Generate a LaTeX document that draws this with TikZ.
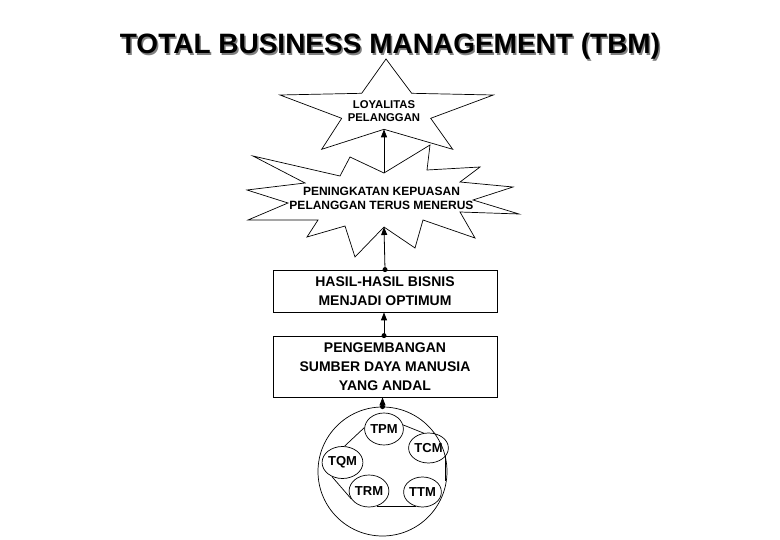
\documentclass[tikz,border=0pt]{standalone}
\usepackage{fontspec}
\setmainfont{Liberation Sans}
\usetikzlibrary{arrows.meta,shapes.geometric}
\begin{document}
\begin{tikzpicture}[x=1pt,y=-1pt,
  titlefont/.style={font=\bfseries\fontsize{28}{30}\selectfont, inner sep=0, anchor=base},
  startext/.style={font=\bfseries\fontsize{11.3}{13.5}\selectfont, align=center, inner sep=0},
  bursttext/.style={font=\bfseries\fontsize{12}{14}\selectfont, align=center, inner sep=0},
  boxnode/.style={draw, line width=0.8pt, minimum width=224pt, inner sep=0, align=center,
     font=\bfseries\fontsize{14}{19}\selectfont},
  smallc/.style={draw, line width=0.7pt, ellipse, inner sep=0, font=\bfseries\fontsize{13}{15}\selectfont},
  outline/.style={draw, line width=0.7pt, line join=miter},
  conn/.style={line width=0.8pt, -{Triangle[length=8pt,width=6pt]}},
  dotc/.style={fill=black}
]
\useasboundingbox (0,0) rectangle (780,540);

% title with shadow
\node[titlefont, text=black!50] (titleshadow) at (391.5,55.5) {TOTAL BUSINESS MANAGEMENT (TBM)};
\node[titlefont] (title) at (390,54) {TOTAL BUSINESS MANAGEMENT (TBM)};

% star
\path[outline] (386,59) -- (411.7,93.3) -- (493.3,95) -- (430.7,118.3) -- (452.7,149.3)
  -- (384,129.3) -- (321.7,149.3) -- (341.7,118.3) -- (280,95) -- (361.7,93.3) -- cycle;
\coordinate (starB) at (384,129.3);
\node[startext] (startxt) at (384,111) {LOYALITAS\\PELANGGAN};

% burst
\path[outline] (253,156) -- (340,176) -- (350,157) -- (384,173) -- (430,145) -- (427,170)
  -- (480,167) -- (460,182) -- (513,187) -- (473,200) -- (519,214) -- (460,212)
  -- (475,238) -- (423,220) -- (415,248) -- (384,227) -- (355,257) -- (345,226)
  -- (307,237) -- (318,220) -- (248,220) -- (288,203) -- (247,190) -- (305,183) -- cycle;
\coordinate (burstT) at (384,173);
\coordinate (burstB) at (384,227);
\node[bursttext] (bursttxt) at (381.5,198) {PENINGKATAN KEPUASAN\\PELANGGAN TERUS MENERUS};

% boxes
\node[boxnode, minimum height=42pt] (box1) at (385,291) {HASIL-HASIL BISNIS\\MENJADI OPTIMUM};
\node[boxnode, minimum height=61pt] (box2) at (385,366.5) {PENGEMBANGAN\\SUMBER DAYA MANUSIA\\YANG ANDAL};

% big circle and small circles
\node[draw, line width=0.7pt, circle, minimum size=129pt, inner sep=0] (big) at (382.5,471.5) {};
\node[smallc, minimum width=38pt, minimum height=32pt] (tpm) at (384,429) {TPM};
\node[smallc, minimum width=33pt, minimum height=30pt] (tcm) at (428.5,448) {TCM};
\node[smallc, minimum width=35pt, minimum height=32pt] (tqm) at (342.5,462.5) {TQM};
\node[smallc, minimum width=38pt, minimum height=32pt] (trm) at (369,491) {TRM};
\node[smallc, minimum width=35pt, minimum height=30pt] (ttm) at (422.5,492) {TTM};

\draw[line width=0.7pt] (tqm.83) -- (tpm.176);
\draw[line width=0.7pt] (tpm.12) -- (tcm.108);
\draw[line width=0.7pt] (tcm.-26) -- (tcm.-26 |- ttm.40);
\draw[line width=0.7pt] (trm.-62) -- (ttm.-115 |- trm.-62);
\draw[line width=0.7pt] (tqm.-127) -- (trm.205);

% connectors
\draw[conn] (burstT) -- (starB);
\draw[conn] (box1.north) -- (burstB);
\fill[dotc] (box1.north) circle (2.5);
\draw[conn] ([xshift=-1pt]box2.north) -- ([xshift=-1pt]box1.south);
\fill[dotc] ([xshift=-1pt]box2.north) circle (2.5);
\draw[conn] (big.north) -- (big.north |- box2.south);
\fill[dotc] (big.north) circle (2.5);
\end{tikzpicture}
\end{document}
